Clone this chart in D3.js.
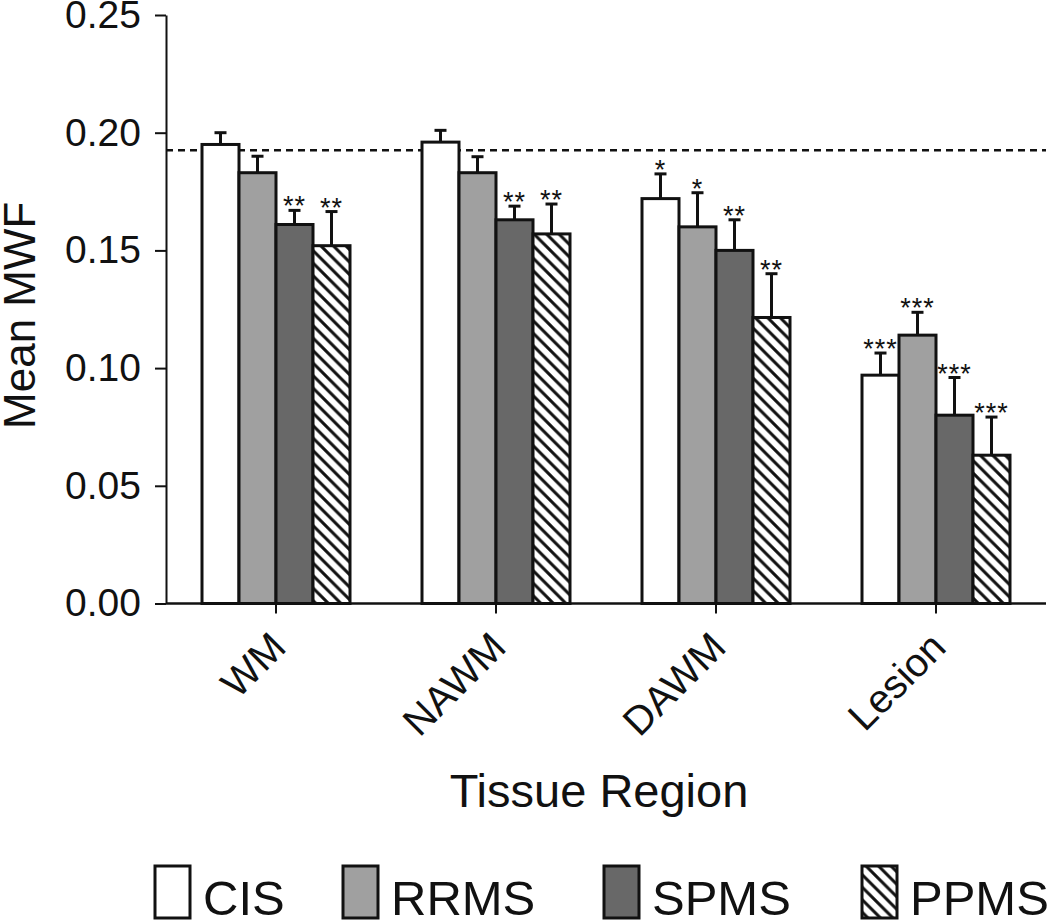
<!DOCTYPE html>
<html>
<head>
<meta charset="utf-8">
<script src="https://cdn.jsdelivr.net/npm/d3@7"></script>
<style>
  html, body { margin: 0; padding: 0; background: #fff; }
  svg { display: block; font-family: "Liberation Sans", Arial, Helvetica, sans-serif; }
</style>
</head>
<body>
<svg id="chart" width="1050" height="922"></svg>
<script>
// ---------- data ----------
const categories = ["WM", "NAWM", "DAWM", "Lesion"];
const seriesNames = ["CIS", "RRMS", "SPMS", "PPMS"];
const cisMean  = [0.195, 0.196, 0.172, 0.097];
const rrmsMean = [0.183, 0.183, 0.160, 0.114];
const spmsMean = [0.161, 0.163, 0.150, 0.080];
const ppmsMean = [0.152, 0.157, 0.1215, 0.063];
const cisErr  = [0.005, 0.005, 0.0105, 0.0094];
const rrmsErr = [0.007, 0.0068, 0.0145, 0.0097];
const spmsErr = [0.006, 0.0058, 0.013, 0.016];
const ppmsErr = [0.0145, 0.0127, 0.0186, 0.0162];
const cisSig  = ["", "", "*", "***"];
const rrmsSig = ["", "", "*", "***"];
const spmsSig = ["**", "**", "**", "***"];
const ppmsSig = ["**", "**", "**", "***"];
const referenceLine = 0.1925;
const yTicks = [0, 0.05, 0.10, 0.15, 0.20, 0.25];
const yLabel = "Mean MWF";
const xLabel = "Tissue Region";

const means = [cisMean, rrmsMean, spmsMean, ppmsMean];
const errs = [cisErr, rrmsErr, spmsErr, ppmsErr];
const sigs = [cisSig, rrmsSig, spmsSig, ppmsSig];

const rows = [];
categories.forEach((c, ci) => {
  seriesNames.forEach((s, si) => {
    rows.push({ cat: c, ser: s, mean: means[si][ci], err: errs[si][ci], sig: sigs[si][ci] });
  });
});

// ---------- layout ----------
const svg = d3.select("#chart");
const plotLeft = 166, plotRight = 1046, plotTop = 15, plotBottom = 603.5;

const defs = svg.append("defs");
const pat = defs.append("pattern")
  .attr("id", "hatch")
  .attr("patternUnits", "userSpaceOnUse")
  .attr("width", 12.5).attr("height", 12.5);
pat.append("rect").attr("width", 12.5).attr("height", 12.5).attr("fill", "#fff");
pat.append("path")
  .attr("d", "M-3,-3 L15.5,15.5 M-3,9.5 L3,15.5 M9.5,-3 L15.5,3")
  .attr("stroke", "#111").attr("stroke-width", 3);

const fills = {
  CIS: "#ffffff",
  RRMS: "#a0a0a0",
  SPMS: "#686868",
  PPMS: "url(#hatch)"
};

const y = d3.scaleLinear().domain([0, 0.25]).range([plotBottom, plotTop]);
const x0 = d3.scaleBand().domain(categories).range([plotLeft, plotRight])
  .paddingInner(72 / 220).paddingOuter(36 / 220);
const x1 = d3.scaleBand().domain(seriesNames).range([0, x0.bandwidth()]);

// reference dashed line
svg.append("line")
  .attr("x1", plotLeft).attr("x2", plotRight)
  .attr("y1", y(referenceLine)).attr("y2", y(referenceLine))
  .attr("stroke", "#111").attr("stroke-width", 2.5)
  .attr("stroke-dasharray", "7,5");

// error bars
const eg = svg.append("g");
rows.forEach(d => {
  const cx = x0(d.cat) + x1(d.ser) + x1.bandwidth() / 2;
  eg.append("line")
    .attr("x1", cx).attr("x2", cx)
    .attr("y1", y(d.mean)).attr("y2", y(d.mean + d.err))
    .attr("stroke", "#111").attr("stroke-width", 3);
  eg.append("line")
    .attr("x1", cx - 6).attr("x2", cx + 6)
    .attr("y1", y(d.mean + d.err)).attr("y2", y(d.mean + d.err))
    .attr("stroke", "#111").attr("stroke-width", 3);
  if (d.sig) {
    eg.append("text")
      .attr("x", cx).attr("y", y(d.mean + d.err) + 5)
      .attr("text-anchor", "middle")
      .attr("font-size", 27)
      .attr("letter-spacing", 1)
      .attr("fill", "#111")
      .text(d.sig);
  }
});

// bars
svg.append("g").selectAll("rect").data(rows).join("rect")
  .attr("x", d => x0(d.cat) + x1(d.ser))
  .attr("y", d => y(d.mean))
  .attr("width", x1.bandwidth())
  .attr("height", d => y(0) - y(d.mean))
  .attr("fill", d => fills[d.ser])
  .attr("stroke", "#111").attr("stroke-width", 3);

// y axis
const yAxis = svg.append("g")
  .attr("transform", `translate(${plotLeft},0)`)
  .call(d3.axisLeft(y).tickValues(yTicks).tickFormat(d3.format(".2f")).tickSize(11).tickSizeOuter(0).tickPadding(14));
yAxis.select(".domain").attr("stroke", "#111").attr("stroke-width", 2);
yAxis.selectAll(".tick line").attr("stroke", "#111").attr("stroke-width", 2);
yAxis.selectAll(".tick text").attr("font-size", 39).attr("fill", "#111")
  .attr("font-family", "'Liberation Sans', Arial, sans-serif");

// x axis
const xAxis = svg.append("g")
  .attr("transform", `translate(0,${plotBottom})`)
  .call(d3.axisBottom(x0).tickSize(10).tickSizeOuter(0));
xAxis.select(".domain").attr("stroke", "#111").attr("stroke-width", 2.5)
  .attr("d", `M${plotLeft},0H${plotRight}`);
xAxis.selectAll(".tick line").attr("stroke", "#111").attr("stroke-width", 2);
xAxis.selectAll(".tick text")
  .attr("font-size", 40).attr("fill", "#111")
  .attr("font-family", "'Liberation Sans', Arial, sans-serif")
  .attr("text-anchor", "end")
  .attr("dy", null)
  .attr("y", 0)
  .attr("transform", "translate(12,46) rotate(-45)");

// axis titles
svg.append("text")
  .attr("transform", `translate(35,${(plotTop + plotBottom) / 2 + 6}) rotate(-90)`)
  .attr("text-anchor", "middle")
  .attr("font-size", 44).attr("fill", "#111")
  .text(yLabel);

svg.append("text")
  .attr("x", 599).attr("y", 807)
  .attr("text-anchor", "middle")
  .attr("font-size", 47).attr("fill", "#111")
  .text(xLabel);

// legend
const legendX = [155, 343, 604, 862];
const lg = svg.append("g");
seriesNames.forEach((s, i) => {
  lg.append("rect")
    .attr("x", legendX[i]).attr("y", 866)
    .attr("width", 35).attr("height", 52)
    .attr("fill", fills[s]).attr("stroke", "#111").attr("stroke-width", 3);
  lg.append("text")
    .attr("x", legendX[i] + 48).attr("y", 915)
    .attr("font-size", 49).attr("fill", "#111")
    .text(s);
});
</script>
</body>
</html>
